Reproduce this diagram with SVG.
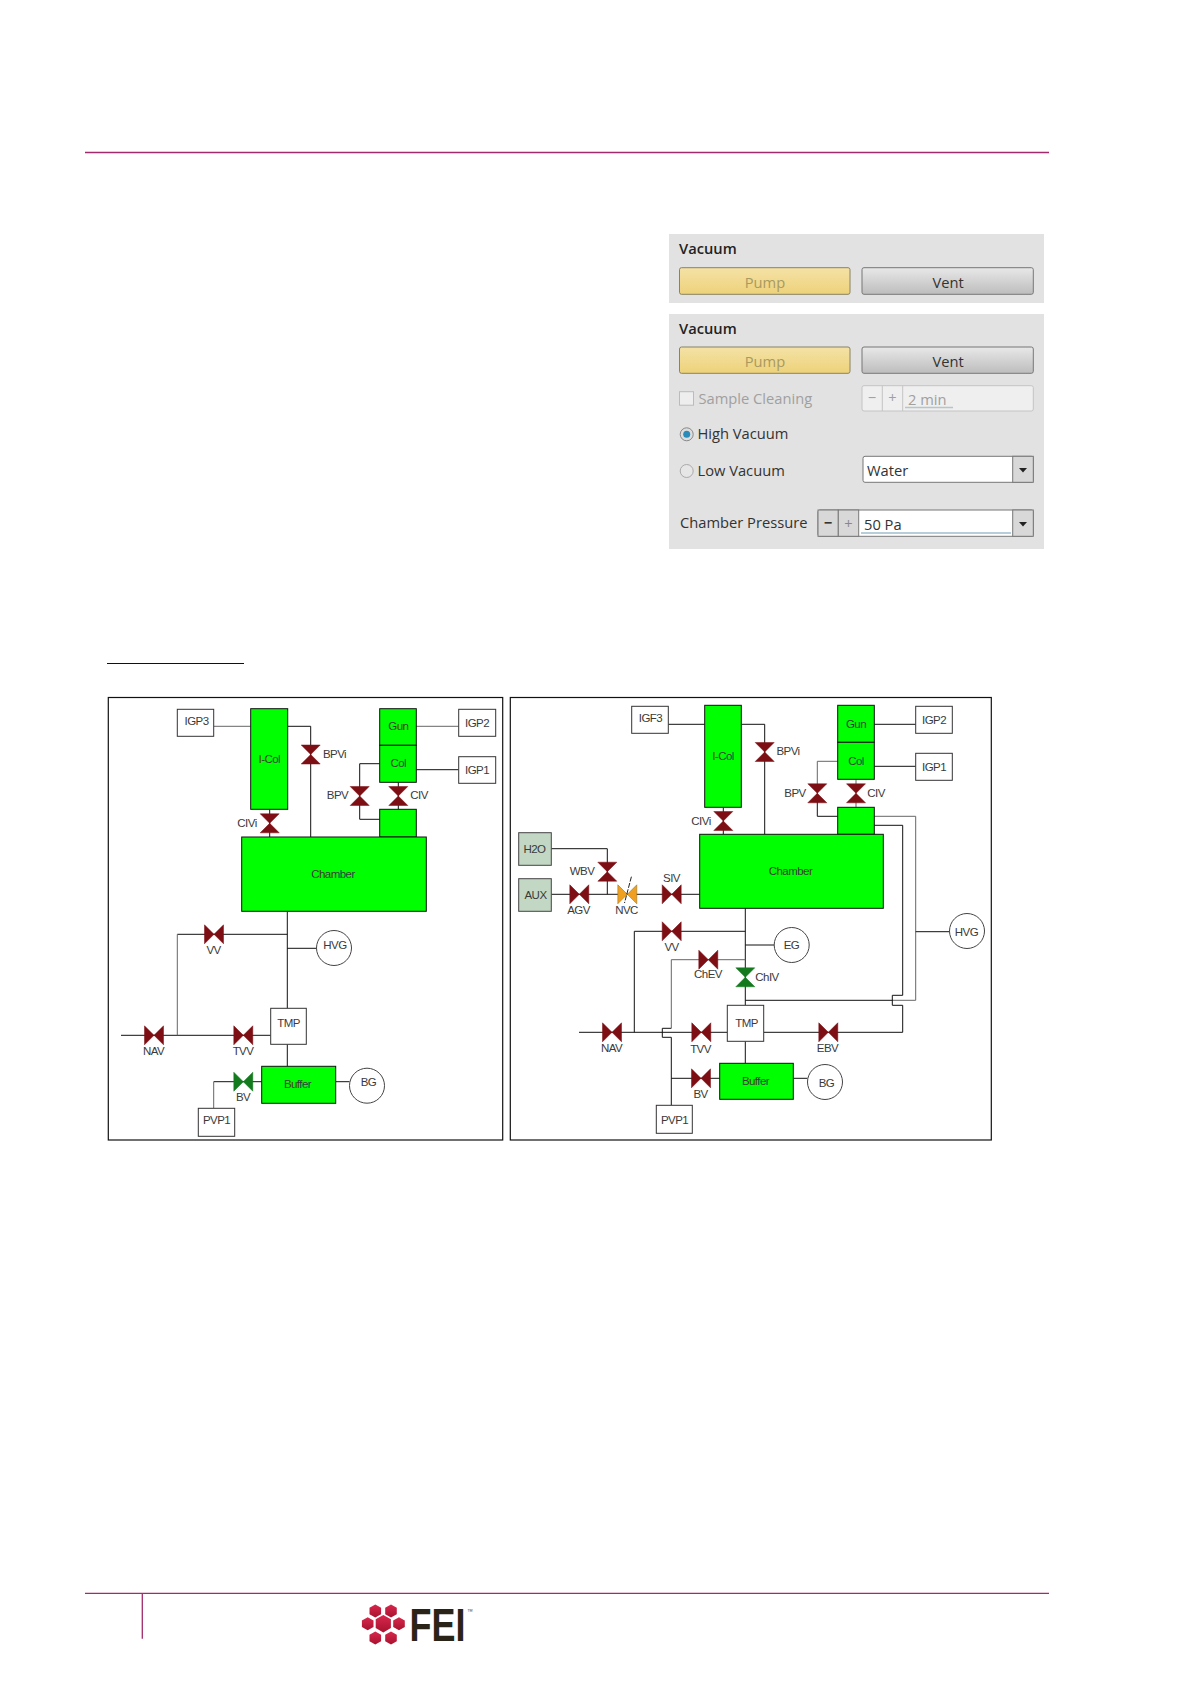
<svg xmlns="http://www.w3.org/2000/svg" width="1190" height="1684" viewBox="0 0 1190 1684">
<style>
.rule{stroke:#a32a6c;stroke-width:1.3;fill:none}
.frame{fill:#fff;stroke:#111;stroke-width:1.2}
.w{fill:#fff;stroke:#333;stroke-width:1}
.g{fill:#00ff00;stroke:#111;stroke-width:1}
.s{fill:#c2d8c4;stroke:#444;stroke-width:1}
.c{fill:#fff;stroke:#444;stroke-width:1}
.l{fill:none;stroke:#111;stroke-width:1}
.lg{fill:none;stroke:#666;stroke-width:1}
.t{font-family:"Liberation Sans",Arial,sans-serif;font-size:11.5px;letter-spacing:-.55px;fill:#3a3a3a;text-anchor:middle;dominant-baseline:central}
.vr{fill:#7d0f14;stroke:#7d0f14;stroke-width:.5}
.vg{fill:#137a1e;stroke:#137a1e;stroke-width:.5}
.vo{fill:#f0a020;stroke:#8a6a20;stroke-width:.5}
.ui{font-family:"Open Sans",sans-serif;font-size:14.7px;fill:#333}
.uic{text-anchor:middle}
.h{font-weight:600;fill:#222}
.dis{fill:#a0a0a0}
.btn{fill:url(#gb);stroke:#777;stroke-width:1}
.pump{fill:url(#gy);stroke:#8a8260;stroke-width:1}
.box{fill:#fff;stroke:#777;stroke-width:1}
.dd{fill:#d8d8d8;stroke:#777;stroke-width:1}
.hex{fill:url(#hx)}
</style>
<defs>
<linearGradient id="gb" x1="0" y1="0" x2="0" y2="1"><stop offset="0" stop-color="#e8e8e8"/><stop offset="1" stop-color="#bdbdbd"/></linearGradient>
<linearGradient id="gy" x1="0" y1="0" x2="0" y2="1"><stop offset="0" stop-color="#f4e2a6"/><stop offset="1" stop-color="#eed27a"/></linearGradient>
<linearGradient id="hx" x1="0" y1="0" x2="0" y2="1"><stop offset="0" stop-color="#d8274c"/><stop offset="1" stop-color="#a8122f"/></linearGradient>
<path id="vh" d="M-9.5-9.5L0 0L-9.5 9.5ZM9.5-9.5L0 0L9.5 9.5Z"/>
<path id="vv" d="M-9.5-9.5H9.5L0 0L9.5 9.5H-9.5L0 0Z"/>
<polygon id="hs" points="0,-6.5 5.8,-3.2 5.8,3.2 0,6.5 -5.8,3.2 -5.8,-3.2"/>
<polygon id="hb" points="0,-8.8 7.6,-4.4 7.6,4.4 0,8.8 -7.6,4.4 -7.6,-4.4"/>
</defs>
<rect width="1190" height="1684" fill="#fff"/>
<path class="rule" d="M85 152.5H1049"/>
<path class="rule" d="M85 1593.3H1049M142.3 1593.3V1638.7"/>
<path d="M107 663.5H244" fill="none" stroke="#111" stroke-width="1"/>

<g id="panel-top">
<rect x="669" y="234" width="375" height="69" fill="#e2e2e2"/>
<text class="ui h" x="679" y="254">Vacuum</text>
<rect class="pump" x="679.5" y="267.7" width="170.5" height="26.6" rx="2"/>
<text class="ui uic" x="765" y="288" style="fill:#a89a60">Pump</text>
<rect class="btn" x="862" y="267.7" width="171.3" height="26.6" rx="2"/>
<text class="ui uic" x="948" y="288">Vent</text>
</g>
<g id="panel-main">
<rect x="669" y="314" width="375" height="235" fill="#e2e2e2"/>
<text class="ui h" x="679" y="334">Vacuum</text>
<rect class="pump" x="679.5" y="347" width="170.5" height="26.3" rx="2"/>
<text class="ui uic" x="765" y="367" style="fill:#a89a60">Pump</text>
<rect class="btn" x="862" y="347" width="171.3" height="26.3" rx="2"/>
<text class="ui uic" x="948" y="367">Vent</text>
<rect x="679.5" y="391.7" width="14" height="13.5" fill="#eee" stroke="#bbb"/>
<text class="ui dis" x="698.5" y="404">Sample Cleaning</text>
<rect x="862" y="385.7" width="171.3" height="25.3" rx="2" fill="#efefef" stroke="#c4c4c4"/>
<path d="M882.3 385.7V411M902.7 385.7V411" stroke="#c4c4c4" fill="none"/>
<text class="ui dis uic" x="872" y="403">−</text>
<text class="ui dis uic" x="892.5" y="403">+</text>
<text class="ui dis" x="908" y="405">2 min</text>
<path d="M905 407.5H953" stroke="#b8c4c8" stroke-width="1.5" fill="none"/>
<circle cx="686.7" cy="434.3" r="6.5" fill="#ddd" stroke="#888"/>
<circle cx="686.7" cy="434.3" r="3.5" fill="#2a8ab8"/>
<text class="ui" x="697.5" y="439">High Vacuum</text>
<circle cx="686.7" cy="471" r="6.5" fill="#e6e6e6" stroke="#aaa"/>
<text class="ui" x="697.5" y="475.5">Low Vacuum</text>
<rect class="box" x="863" y="456.3" width="170.3" height="26" rx="2"/>
<rect class="dd" x="1012.7" y="456.3" width="20.6" height="26"/>
<path d="M1019 468H1027L1023 472.5Z" fill="#222"/>
<text class="ui" x="867" y="476">Water</text>
<text class="ui" x="680" y="528">Chamber Pressure</text>
<rect class="box" x="818" y="510" width="215.3" height="26.3" rx="2"/>
<rect class="dd" x="818" y="510" width="20.3" height="26.3"/>
<rect class="dd" x="838.3" y="510" width="20.4" height="26.3"/>
<rect class="dd" x="1012.7" y="510" width="20.6" height="26.3"/>
<path d="M1019 522H1027L1023 526.5Z" fill="#222"/>
<text class="ui uic" x="828" y="528" style="font-weight:700">−</text>
<text class="ui uic" x="848.5" y="529" style="fill:#888">+</text>
<text class="ui" x="864" y="530">50 Pa</text>
<path d="M861 533H1011" stroke="#9fbccc" stroke-width="1.5" fill="none"/>
</g>

<g id="frame-left"><rect class="frame" x="108.3" y="697.5" width="394.4" height="442.5"/></g>
<g id="frame-right"><rect class="frame" x="510.3" y="697.5" width="481" height="442.5"/></g>

<g id="connectors">
<path class="lg" d="M213.7 726.3H250.7M416.3 726.3H458.7"/>
<path class="l" d="M287.7 726.3H310.7V837M416.3 769.7H458.7M379.7 763.7H359.7V819.3H379.7M398.3 782.3V809.3M269.7 809.3V837"/>
<path class="l" d="M287.3 911.3V1008.3M287.3 1044.3V1066.3M287.3 934.3H177.3M287.3 948.3H316.5M121 1035.3H270.7M335.7 1081.7H349.5M261.7 1081.7H213.7"/>
<path class="lg" d="M177.3 934.3V1035.3M213.7 1081.7V1108.3"/>

<path class="l" d="M668.3 724.3H704.7M741.3 724.3H764.7V834.3M874.3 724.3H915.7M874.3 766.3H915.7M723.3 807.3V834.3M837.7 816.3H817.3V793.3"/>
<path class="lg" d="M837.7 761.3H817.3V793.3M856 779.3V807.3M874.3 816.3H915.7V1000.3H892"/>
<path class="l" d="M874.3 825.3H902.7V995.3H892.3V1005.3H902.7V1032.3H763.7M892.3 1000.3H745.3"/>
<path class="l" d="M551.3 848.7H607.3V894.3M551.3 894.3H699.7"/>
<path class="l" d="M745.3 908.3V1005.3M745.3 931.3H634.3V1032.3M745.3 945H774M579 1032.3H727.3M745.3 1041.3V1063.3M793.3 1078.3H807.5M671.3 1078.3H719.7M915.7 931.7H949.3"/>
<path class="lg" d="M745.3 959.7H671.3V1028.3"/>
<path class="l" d="M671.3 1028.3H662.3V1037.3H671.3V1105.3"/>
</g>

<g id="left-diagram">
<g id="l-igp3"><rect class="w" x="177.3" y="709.3" width="36.4" height="27"/><text class="t" x="196.5" y="720.5">IGP3</text></g>
<g id="l-icol"><rect class="g" x="250.7" y="708.7" width="37" height="100.6"/><text class="t" x="269.3" y="758.5">I-Col</text></g>
<g id="l-gun"><rect class="g" x="379.7" y="708.7" width="36.6" height="36.6"/><text class="t" x="398.3" y="726">Gun</text></g>
<g id="l-col"><rect class="g" x="379.7" y="745.3" width="36.6" height="37"/><text class="t" x="398.3" y="763">Col</text></g>
<g id="l-sub"><rect class="g" x="379.7" y="809.3" width="36.6" height="27.7"/></g>
<g id="l-igp2"><rect class="w" x="458.7" y="709.3" width="37" height="27"/><text class="t" x="477" y="722.5">IGP2</text></g>
<g id="l-igp1"><rect class="w" x="458.7" y="756.7" width="37" height="26.6"/><text class="t" x="477" y="769.5">IGP1</text></g>
<g id="l-chamber"><rect class="g" x="241.7" y="837" width="184.6" height="74.3"/><text class="t" x="333" y="873.5">Chamber</text></g>
<g id="l-bpvi"><use href="#vv" class="vr" x="310.7" y="754.5"/><text class="t" x="334.5" y="754">BPVi</text></g>
<g id="l-bpv"><use href="#vv" class="vr" x="359.7" y="796"/><text class="t" x="337.5" y="795">BPV</text></g>
<g id="l-civ"><use href="#vv" class="vr" x="398.3" y="796"/><text class="t" x="419" y="795">CIV</text></g>
<g id="l-civi"><use href="#vv" class="vr" x="269.7" y="823.3"/><text class="t" x="247" y="823">CIVi</text></g>
<g id="l-vv"><use href="#vh" class="vr" x="214" y="934.3"/><text class="t" x="213.5" y="950">VV</text></g>
<g id="l-hvg"><circle class="c" cx="334" cy="948" r="17.5"/><text class="t" x="335" y="945">HVG</text></g>
<g id="l-nav"><use href="#vh" class="vr" x="154" y="1035.3"/><text class="t" x="153.5" y="1050.5">NAV</text></g>
<g id="l-tvv"><use href="#vh" class="vr" x="243.3" y="1035.3"/><text class="t" x="243" y="1051">TVV</text></g>
<g id="l-tmp"><rect class="w" x="270.7" y="1008.3" width="35.6" height="36"/><text class="t" x="288.5" y="1023">TMP</text></g>
<g id="l-buffer"><rect class="g" x="261.7" y="1066.3" width="74" height="37"/><text class="t" x="297.5" y="1084">Buffer</text></g>
<g id="l-bv"><use href="#vh" class="vg" x="243.3" y="1081.7"/><text class="t" x="243" y="1097">BV</text></g>
<g id="l-bg"><circle class="c" cx="367" cy="1085.7" r="17.5"/><text class="t" x="368.5" y="1082">BG</text></g>
<g id="l-pvp1"><rect class="w" x="198.3" y="1108.3" width="36.4" height="28"/><text class="t" x="216.5" y="1120">PVP1</text></g>
</g>

<g id="right-diagram">
<g id="r-igf3"><rect class="w" x="631.7" y="706.3" width="36.6" height="27"/><text class="t" x="650.5" y="718">IGF3</text></g>
<g id="r-icol"><rect class="g" x="704.7" y="705.3" width="36.6" height="102"/><text class="t" x="723" y="756">I-Col</text></g>
<g id="r-gun"><rect class="g" x="837.7" y="705.3" width="36.6" height="37"/><text class="t" x="856" y="723.5">Gun</text></g>
<g id="r-col"><rect class="g" x="837.7" y="742.3" width="36.6" height="37"/><text class="t" x="856" y="760.5">Col</text></g>
<g id="r-sub"><rect class="g" x="837.7" y="807.3" width="36.6" height="27"/></g>
<g id="r-igp2"><rect class="w" x="915.7" y="706.3" width="36.6" height="27"/><text class="t" x="934" y="719.5">IGP2</text></g>
<g id="r-igp1"><rect class="w" x="915.7" y="753.3" width="36.6" height="27"/><text class="t" x="934" y="766.5">IGP1</text></g>
<g id="r-chamber"><rect class="g" x="699.7" y="834.3" width="183.6" height="74"/><text class="t" x="790.5" y="871">Chamber</text></g>
<g id="r-h2o"><rect class="s" x="518.7" y="832.7" width="32.6" height="32.6"/><text class="t" x="534.5" y="849">H2O</text></g>
<g id="r-aux"><rect class="s" x="518.7" y="878.7" width="32.6" height="32.6"/><text class="t" x="535.5" y="895">AUX</text></g>
<g id="r-bpvi"><use href="#vv" class="vr" x="764.7" y="752"/><text class="t" x="788" y="751">BPVi</text></g>
<g id="r-bpv"><use href="#vv" class="vr" x="817.3" y="793.3"/><text class="t" x="795" y="793">BPV</text></g>
<g id="r-civ"><use href="#vv" class="vr" x="856" y="793.3"/><text class="t" x="876" y="793">CIV</text></g>
<g id="r-civi"><use href="#vv" class="vr" x="723.3" y="821"/><text class="t" x="701" y="820.5">CIVi</text></g>
<g id="r-wbv"><use href="#vv" class="vr" x="607.3" y="871.7"/><text class="t" x="582" y="871">WBV</text></g>
<g id="r-agv"><use href="#vh" class="vr" x="579.3" y="894.3"/><text class="t" x="578.5" y="910">AGV</text></g>
<g id="r-nvc"><use href="#vh" class="vo" x="627.3" y="894.3"/><path d="M631.4 876.7L624.5 903" stroke="#222" stroke-width="1" stroke-dasharray="5 1.5" fill="none"/><text class="t" x="626.5" y="910">NVC</text></g>
<g id="r-siv"><use href="#vh" class="vr" x="671.7" y="894.3"/><text class="t" x="671.5" y="877.5">SIV</text></g>
<g id="r-vv"><use href="#vh" class="vr" x="671.7" y="931.3"/><text class="t" x="671.5" y="947">VV</text></g>
<g id="r-chev"><use href="#vh" class="vr" x="708.3" y="959.7"/><text class="t" x="708" y="974">ChEV</text></g>
<g id="r-chiv"><use href="#vv" class="vg" x="745.3" y="977.3"/><text class="t" x="767" y="977">ChIV</text></g>
<g id="r-eg"><circle class="c" cx="791.7" cy="945" r="17.5"/><text class="t" x="791.5" y="945">EG</text></g>
<g id="r-hvg"><circle class="c" cx="967" cy="931" r="17.5"/><text class="t" x="966.5" y="931.5">HVG</text></g>
<g id="r-nav"><use href="#vh" class="vr" x="612" y="1032.3"/><text class="t" x="611.5" y="1047.5">NAV</text></g>
<g id="r-tvv"><use href="#vh" class="vr" x="701.3" y="1032.3"/><text class="t" x="700.5" y="1048.5">TVV</text></g>
<g id="r-tmp"><rect class="w" x="727.3" y="1005.3" width="36.4" height="36"/><text class="t" x="746.5" y="1022.5">TMP</text></g>
<g id="r-ebv"><use href="#vh" class="vr" x="828.3" y="1032.3"/><text class="t" x="827.5" y="1047.5">EBV</text></g>
<g id="r-buffer"><rect class="g" x="719.7" y="1063.3" width="73.6" height="36"/><text class="t" x="755.5" y="1081">Buffer</text></g>
<g id="r-bv"><use href="#vh" class="vr" x="701" y="1078.3"/><text class="t" x="700.5" y="1093.5">BV</text></g>
<g id="r-bg"><circle class="c" cx="825" cy="1082" r="17.5"/><text class="t" x="826.5" y="1082.5">BG</text></g>
<g id="r-pvp1"><rect class="w" x="656.3" y="1105.3" width="36" height="28"/><text class="t" x="674.5" y="1119.5">PVP1</text></g>
</g>

<g id="logo">
<use href="#hs" class="hex" x="375.3" y="1611"/><use href="#hs" class="hex" x="391" y="1611"/>
<use href="#hs" class="hex" x="367.7" y="1623.7"/><use href="#hs" class="hex" x="399" y="1623.7"/>
<use href="#hs" class="hex" x="375.3" y="1638"/><use href="#hs" class="hex" x="391" y="1638"/>
<use href="#hb" class="hex" x="383.3" y="1623.7"/>
<text transform="translate(409.5 1641) scale(.79 1)" font-family="Liberation Sans,sans-serif" font-weight="700" font-size="45.5" fill="#2a2418">FEI<tspan dx="2" dy="-27" font-size="7.5" font-weight="400" fill="#555">™</tspan></text>
</g>
</svg>
